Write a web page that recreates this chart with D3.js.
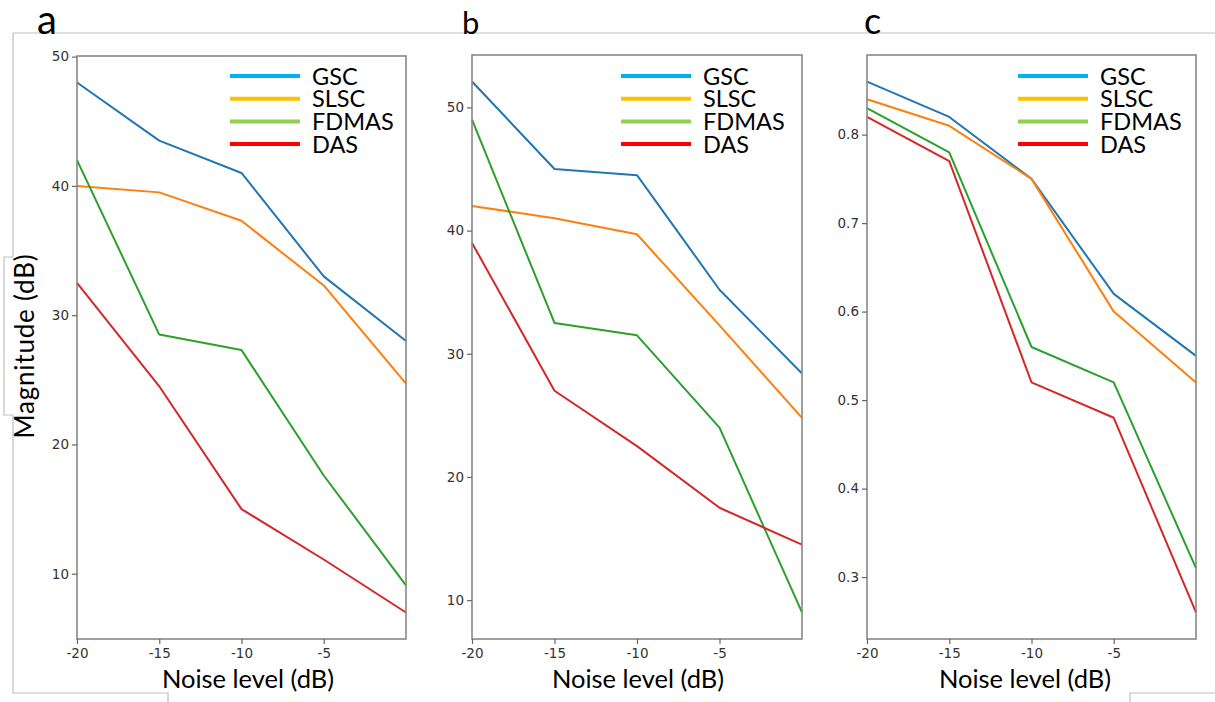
<!DOCTYPE html>
<html><head><meta charset="utf-8">
<script src="https://cdn.jsdelivr.net/npm/d3@7"></script>
<style>body{margin:0;background:#fff;}svg{display:block;}</style>
</head><body>
<svg id="chart" width="1215" height="702"></svg>
<script>
// ---------- DATA ----------
const noiseLevels = [-20, -15, -10, -5, 0];
const xTickValues = [-20, -15, -10, -5];
const seriesNames = ["GSC", "SLSC", "FDMAS", "DAS"];
const panelLabels = ["a", "b", "c"];

const panelA_GSC   = [48, 43.5, 41, 33, 28];
const panelA_SLSC  = [40, 39.5, 37.3, 32.3, 24.7];
const panelA_FDMAS = [42, 28.5, 27.3, 17.6, 9.1];
const panelA_DAS   = [32.5, 24.5, 15, 11.1, 7];

const panelB_GSC   = [52.1, 45, 44.5, 35.2, 28.4];
const panelB_SLSC  = [42, 41, 39.7, 32.3, 24.8];
const panelB_FDMAS = [49, 32.5, 31.5, 24, 9];
const panelB_DAS   = [39, 27, 22.5, 17.5, 14.5];

const panelC_GSC   = [0.86, 0.82, 0.75, 0.62, 0.55];
const panelC_SLSC  = [0.84, 0.81, 0.75, 0.60, 0.52];
const panelC_FDMAS = [0.83, 0.78, 0.56, 0.52, 0.31];
const panelC_DAS   = [0.82, 0.77, 0.52, 0.48, 0.26];

const yTicksA = [10, 20, 30, 40, 50];
const yTicksB = [10, 20, 30, 40, 50];
const yTicksC = [0.3, 0.4, 0.5, 0.6, 0.7, 0.8];

const xLabel = "Noise level (dB)";
const yLabel = "Magnitude (dB)";

// ---------- STYLE / LAYOUT ----------
const lineColors = ["#1f77b4", "#ff7f0e", "#2ca02c", "#d62728"];
const legendColors = ["#00b0f0", "#ffc000", "#92d050", "#ff0000"];

const panels = [
  {label: panelLabels[0], series: [panelA_GSC, panelA_SLSC, panelA_FDMAS, panelA_DAS], yTicks: yTicksA, fmt: d3.format("d"),
   box: {l: 77, r: 406, t: 56, b: 639}, legendX: 230, xLabelX: 248, lab: {x: 37, y: 34, size: 40}},
  {label: panelLabels[1], series: [panelB_GSC, panelB_SLSC, panelB_FDMAS, panelB_DAS], yTicks: yTicksB, fmt: d3.format("d"),
   box: {l: 472, r: 802, t: 55, b: 639}, legendX: 621, xLabelX: 638, lab: {x: 462, y: 34, size: 31}},
  {label: panelLabels[2], series: [panelC_GSC, panelC_SLSC, panelC_FDMAS, panelC_DAS], yTicks: yTicksC, fmt: d3.format(".1f"),
   box: {l: 867, r: 1196, t: 55, b: 639}, legendX: 1018, xLabelX: 1025, lab: {x: 864, y: 34, size: 36}}
];

const svg = d3.select("#chart");
const frameColor = "#bfbfbf";
const FONT = "Lato, 'Open Sans', sans-serif";

// PowerPoint-style gray frame lines
const frame = svg.append("g").attr("fill", "none").attr("stroke", frameColor).attr("stroke-width", 1.2);
frame.append("path").attr("d", "M13,33 H1215");
frame.append("path").attr("d", "M13,33 V257 H4 V415 H13 V693 H168 V702");
frame.append("path").attr("d", "M1215,693 H1130 V702");

panels.forEach(p => {
  const all = p.series.flat();
  const [mn, mx] = d3.extent(all);
  const pad = (mx - mn) * 0.05;
  const x = d3.scaleLinear().domain([-20, 0]).range([p.box.l, p.box.r]);
  const y = d3.scaleLinear().domain([mn - pad, mx + pad]).range([p.box.b, p.box.t]);

  const g = svg.append("g");

  // lines
  const line = d3.line().x((d, i) => x(noiseLevels[i])).y(d => y(d));
  p.series.forEach((s, k) => {
    g.append("path").datum(s).attr("d", line)
      .attr("fill", "none").attr("stroke", lineColors[k]).attr("stroke-width", 2)
      .attr("stroke-linejoin", "round");
  });

  // frame of axes
  g.append("rect").attr("x", p.box.l).attr("y", p.box.t)
    .attr("width", p.box.r - p.box.l).attr("height", p.box.b - p.box.t)
    .attr("fill", "none").attr("stroke", "#888").attr("stroke-width", 1.6);

  // axes
  const xAxis = d3.axisBottom(x).tickValues(xTickValues).tickFormat(d => String(d)).tickSizeOuter(0).tickSize(5).tickPadding(4);
  const yAxis = d3.axisLeft(y).tickValues(p.yTicks).tickFormat(p.fmt).tickSizeOuter(0).tickSize(5).tickPadding(3);
  const gx = g.append("g").attr("transform", `translate(0,${p.box.b})`).call(xAxis);
  const gy = g.append("g").attr("transform", `translate(${p.box.l},0)`).call(yAxis);
  [gx, gy].forEach(a => {
    a.select(".domain").remove();
    a.selectAll("line").attr("stroke", "#666").attr("stroke-width", 1.2);
    a.selectAll("text").attr("fill", "#333").attr("font-family", "DejaVu Sans, sans-serif").attr("font-size", 13.5);
  });

  // legend
  seriesNames.forEach((n, k) => {
    const ly = 76 + k * 22.7;
    g.append("line").attr("x1", p.legendX).attr("x2", p.legendX + 70).attr("y1", ly).attr("y2", ly)
      .attr("stroke", legendColors[k]).attr("stroke-width", 4);
    g.append("text").attr("x", p.legendX + 82).attr("y", ly + 8.5).text(n)
      .attr("font-family", FONT).attr("font-size", 23.5).attr("fill", "#000");
  });

  // x label
  g.append("text").attr("x", p.xLabelX).attr("y", 688).attr("text-anchor", "middle")
    .attr("font-family", FONT).attr("font-size", 25.5).attr("fill", "#000").text(xLabel);

  // panel label
  svg.append("text").attr("x", p.lab.x).attr("y", p.lab.y).attr("font-family", FONT)
    .attr("font-size", p.lab.size).attr("fill", "#000").text(p.label);
});

// y label
svg.append("text").attr("transform", "translate(34,346) rotate(-90)").attr("text-anchor", "middle")
  .attr("font-family", FONT).attr("font-size", 26).attr("letter-spacing", 0.8).attr("fill", "#000").text(yLabel);
</script>
</body></html>
